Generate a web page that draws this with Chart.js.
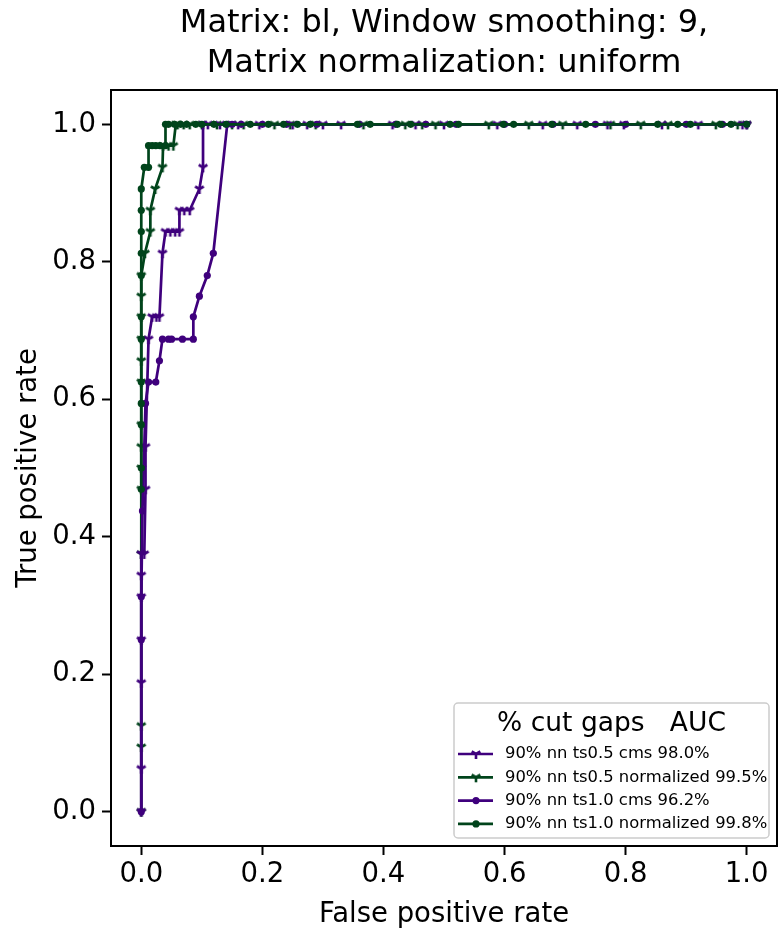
<!DOCTYPE html>
<html>
<head>
<meta charset="utf-8">
<script src="https://cdn.jsdelivr.net/npm/chart.js@4.4.1/dist/chart.umd.min.js"></script>
<style>
  html, body { margin: 0; padding: 0; background: #fff; }
</style>
</head>
<body>
<canvas id="rocChart" width="778" height="935"></canvas>
<script>
// tick values on both axes
const TICKS = [0, 0.2, 0.4, 0.6, 0.8, 1.0];

// 90% nn ts0.5 cms (98.0%)
const fpr_ts05_cms = [0, 0, 0, 0, 0, 0, 0, 0.005, 0.007, 0.007, 0.012, 0.018, 0.025, 0.030, 0.035, 0.040, 0.048, 0.056, 0.063, 0.063, 0.071, 0.080, 0.096, 0.102, 0.102,
  0.11, 0.13, 0.16, 0.195, 0.25, 0.274, 0.30, 0.33, 0.415, 0.453, 0.50, 0.588, 0.663, 0.72, 0.77, 0.797, 0.86, 0.92, 0.993, 1.0];
const tpr_ts05_cms = [0, 0.0625, 0.1875, 0.25, 0.3125, 0.344, 0.375, 0.375, 0.469, 0.531, 0.6875, 0.72, 0.72, 0.72, 0.8125, 0.844, 0.844, 0.844, 0.844, 0.875, 0.875, 0.875, 0.906, 0.9375, 1.0,
  1, 1, 1, 1, 1, 1, 1, 1, 1, 1, 1, 1, 1, 1, 1, 1, 1, 1, 1, 1];

// 90% nn ts0.5 normalized (99.5%)
const fpr_ts05_norm = [0, 0, 0, 0, 0, 0, 0, 0, 0, 0, 0, 0, 0, 0, 0.006, 0.015, 0.015, 0.023, 0.035, 0.036, 0.045, 0.053, 0.057,
  0.06, 0.07, 0.08, 0.10, 0.125, 0.15, 0.169, 0.22, 0.246, 0.288, 0.367, 0.436, 0.464, 0.486, 0.574, 0.64, 0.696, 0.775, 0.825, 0.87, 0.949, 0.985, 1.0];
const tpr_ts05_norm = [0, 0.094, 0.125, 0.375, 0.469, 0.5, 0.531, 0.563, 0.625, 0.656, 0.6875, 0.72, 0.75, 0.78, 0.8125, 0.844, 0.875, 0.906, 0.9375, 0.969, 0.969, 0.969, 1.0,
  1, 1, 1, 1, 1, 1, 1, 1, 1, 1, 1, 1, 1, 1, 1, 1, 1, 1, 1, 1, 1, 1, 1];

// 90% nn ts1.0 cms (96.2%)
const fpr_ts10_cms = [0, 0, 0, 0.002, 0.007, 0.012, 0.024, 0.030, 0.035, 0.045, 0.050, 0.068, 0.086, 0.086, 0.096, 0.109, 0.119, 0.142,
  0.15, 0.165, 0.20, 0.24, 0.29, 0.36, 0.42, 0.47, 0.52, 0.60, 0.68, 0.75, 0.80, 0.90, 0.96, 1.0];
const tpr_ts10_cms = [0, 0.25, 0.3125, 0.4375, 0.594, 0.625, 0.625, 0.656, 0.6875, 0.6875, 0.6875, 0.6875, 0.6875, 0.72, 0.75, 0.78, 0.8125, 1.0,
  1, 1, 1, 1, 1, 1, 1, 1, 1, 1, 1, 1, 1, 1, 1, 1];

// 90% nn ts1.0 normalized (99.8%)
const fpr_ts10_norm = [0, 0, 0, 0, 0, 0, 0, 0, 0, 0, 0, 0, 0.005, 0.012, 0.012, 0.018, 0.024, 0.031, 0.040, 0.040,
  0.045, 0.055, 0.065, 0.075, 0.09, 0.10, 0.12, 0.14, 0.18, 0.21, 0.235, 0.258, 0.279, 0.357, 0.378, 0.423, 0.445, 0.51, 0.524, 0.598, 0.615, 0.678, 0.734, 0.853, 0.886, 0.907, 0.957, 0.974, 1.0];
const tpr_ts10_norm = [0.469, 0.5, 0.563, 0.594, 0.625, 0.6875, 0.72, 0.78, 0.8125, 0.844, 0.875, 0.906, 0.9375, 0.9375, 0.969, 0.969, 0.969, 0.969, 0.969, 1.0,
  1, 1, 1, 1, 1, 1, 1, 1, 1, 1, 1, 1, 1, 1, 1, 1, 1, 1, 1, 1, 1, 1, 1, 1, 1, 1, 1, 1, 1];

const PURPLE = '#3f007d';
const GREEN = '#00441b';

// matplotlib "1" marker (tri_down)
function triDown(color) {
    const c = document.createElement('canvas');
    c.width = 14; c.height = 14;
    const g = c.getContext('2d');
    const r = 5;
    g.strokeStyle = color;
    g.lineWidth = 2.6;
    g.beginPath();
    g.moveTo(7, 7); g.lineTo(7, 7 + r);
    g.moveTo(7, 7); g.lineTo(7 - 0.866 * r, 7 - 0.5 * r);
    g.moveTo(7, 7); g.lineTo(7 + 0.866 * r, 7 - 0.5 * r);
    g.stroke();
    return c;
}

function toPoints(xs, ys) {
    return xs.map((x, i) => ({ x: x, y: ys[i] }));
}

function makeSet(label, xs, ys, color, marker, order) {
    return {
        label: label,
        data: toPoints(xs, ys),
        borderColor: color,
        backgroundColor: color,
        borderWidth: 2.7,
        showLine: true,
        tension: 0,
        pointStyle: marker === 'tri' ? triDown(color) : 'circle',
        pointRadius: 3.6,
        pointBorderWidth: 0,
        pointBackgroundColor: color,
        order: order
    };
}

// 框线 + 图例 drawn inside the plot area
const frameAndLegend = {
    id: 'frameAndLegend',
    afterDraw(chart) {
        const ctx = chart.ctx;
        const area = chart.chartArea;
        ctx.save();
        ctx.strokeStyle = '#000';
        ctx.lineWidth = 2;
        ctx.strokeRect(area.left, area.top, area.right - area.left, area.bottom - area.top);

        const w = 315, h = 135;
        const x0 = area.right - 8 - w;
        const y0 = area.bottom - 8 - h;
        ctx.fillStyle = 'rgba(255,255,255,0.8)';
        ctx.strokeStyle = '#cccccc';
        ctx.lineWidth = 1.5;
        ctx.beginPath();
        ctx.roundRect(x0, y0, w, h, 4);
        ctx.fill();
        ctx.stroke();

        ctx.fillStyle = '#000';
        ctx.textAlign = 'center';
        ctx.textBaseline = 'middle';
        ctx.font = "26.5px 'DejaVu Sans'";
        ctx.fillText('% cut gaps   AUC', x0 + w / 2, y0 + 21);

        ctx.font = "16.4px 'DejaVu Sans'";
        ctx.textAlign = 'left';
        chart.data.datasets.forEach((ds, i) => {
            const y = y0 + 51 + i * 23.3;
            ctx.strokeStyle = ds.borderColor;
            ctx.lineWidth = 2.7;
            ctx.beginPath();
            ctx.moveTo(x0 + 4, y);
            ctx.lineTo(x0 + 39, y);
            ctx.stroke();
            if (ds.pointStyle === 'circle') {
                ctx.fillStyle = ds.borderColor;
                ctx.beginPath();
                ctx.arc(x0 + 22, y, 3.6, 0, Math.PI * 2);
                ctx.fill();
            } else {
                ctx.drawImage(ds.pointStyle, x0 + 22 - 7, y - 7);
            }
            ctx.fillStyle = '#000';
            ctx.fillText(ds.label, x0 + 51, y);
        });
        ctx.restore();
    }
};

Chart.defaults.font.family = "'DejaVu Sans', sans-serif";
Chart.defaults.color = '#000';

const axisCommon = {
    type: 'linear',
    min: -0.05,
    max: 1.05,
    afterBuildTicks: (scale) => { scale.ticks = TICKS.map(v => ({ value: v })); },
    grid: { display: true, drawOnChartArea: false, drawTicks: true, tickLength: 9, tickWidth: 2, tickColor: '#000' },
    border: { display: true, color: '#000', width: 2 }
};

new Chart(document.getElementById('rocChart'), {
    type: 'scatter',
    data: {
        datasets: [
            makeSet('90% nn ts0.5 cms 98.0%', fpr_ts05_cms, tpr_ts05_cms, PURPLE, 'tri', 3),
            makeSet('90% nn ts0.5 normalized 99.5%', fpr_ts05_norm, tpr_ts05_norm, GREEN, 'tri', 4),
            makeSet('90% nn ts1.0 cms 96.2%', fpr_ts10_cms, tpr_ts10_cms, PURPLE, 'circle', 2),
            makeSet('90% nn ts1.0 normalized 99.8%', fpr_ts10_norm, tpr_ts10_norm, GREEN, 'circle', 1)
        ]
    },
    options: {
        responsive: false,
        animation: false,
        devicePixelRatio: 1,
        layout: { autoPadding: false, padding: { left: 0, right: 1, top: 0, bottom: 0 } },
        plugins: {
            legend: { display: false },
            tooltip: { enabled: false },
            title: {
                display: true,
                fullSize: false,
                text: ['Matrix: bl, Window smoothing: 9,', 'Matrix normalization: uniform'],
                font: { size: 32, weight: 'normal', lineHeight: 1.25 },
                color: '#000',
                padding: { top: 4, bottom: 6 }
            }
        },
        scales: {
            x: Object.assign({}, axisCommon, {
                position: 'bottom',
                ticks: { font: { size: 27.5 }, padding: 3, color: '#000', callback: v => v.toFixed(1) },
                title: { display: true, text: 'False positive rate', font: { size: 27.5 }, padding: { top: 8 } },
                afterFit: (scale) => { scale.height = 89; scale.paddingLeft = 0; scale.paddingRight = 0; }
            }),
            y: Object.assign({}, axisCommon, {
                position: 'left',
                ticks: { font: { size: 27.5 }, padding: 6, color: '#000', callback: v => v.toFixed(1) },
                title: { display: true, text: 'True positive rate', font: { size: 27.5 }, padding: { top: 12 } },
                afterFit: (scale) => { scale.width = 111; scale.paddingTop = 0; scale.paddingBottom = 0; }
            })
        }
    },
    plugins: [frameAndLegend]
});
</script>
</body>
</html>
